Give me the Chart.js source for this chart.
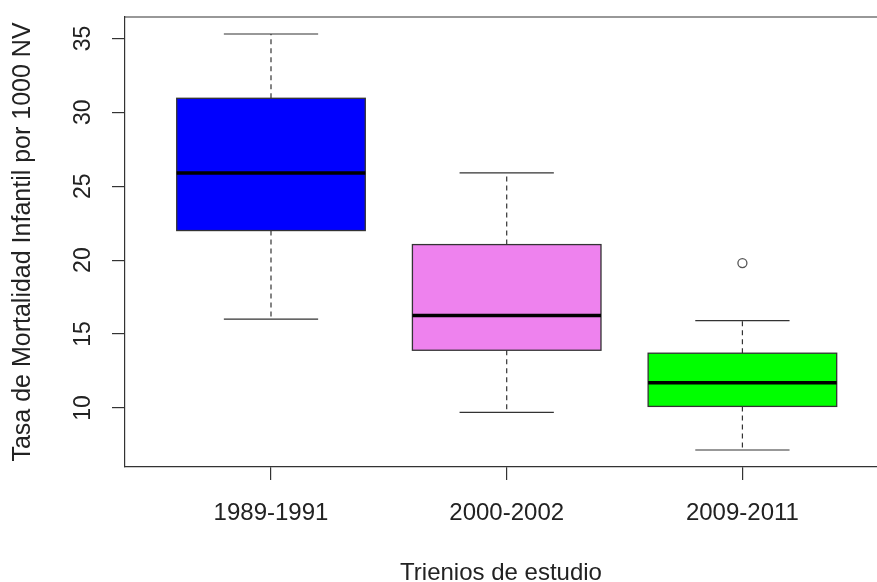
<!DOCTYPE html>
<html>
<head>
<meta charset="utf-8">
<script src="https://cdn.jsdelivr.net/npm/chart.js@4.4.1/dist/chart.umd.min.js"></script>
<style>
  html, body { margin: 0; padding: 0; background: #fff; }
  #wrap { width: 877px; height: 582px; }
</style>
</head>
<body>
<div id="wrap"><canvas id="boxChart" width="877" height="582"></canvas></div>
<script>
// Box statistics (per triennium)
var categories = ['1989-1991', '2000-2002', '2009-2011'];
var lowerWhisker = [16.0, 9.7, 7.15];
var q1 = [22.0, 13.9, 10.1];
var median = [25.9, 16.25, 11.7];
var q3 = [30.95, 21.05, 13.7];
var upperWhisker = [35.3, 25.9, 15.9];
var outliers = [[], [], [19.8]];
var boxColors = ['#0000FF', '#EE82EE', '#00FF00'];
var yTickValues = [10, 15, 20, 25, 30, 35];

var FONT = '"Liberation Sans", Arial, sans-serif';

// outlier points as scatter data
var outlierPoints = [];
outliers.forEach(function (list, i) {
    list.forEach(function (v) { outlierPoints.push({ x: i + 1, y: v }); });
});

// Plugin: boxes, whiskers and medians drawn via the chart scales
var boxPlugin = {
    id: 'boxPlugin',
    beforeDatasetsDraw: function (chart) {
        var ctx = chart.ctx;
        var xs = chart.scales.x, ys = chart.scales.y;
        ctx.save();
        categories.forEach(function (c, i) {
            var cx = xs.getPixelForValue(i + 1);
            var halfBox = xs.getPixelForValue(i + 1.4) - cx;
            var halfCap = xs.getPixelForValue(i + 1.2) - cx;
            var yLw = ys.getPixelForValue(lowerWhisker[i]);
            var yQ1 = ys.getPixelForValue(q1[i]);
            var yMed = ys.getPixelForValue(median[i]);
            var yQ3 = ys.getPixelForValue(q3[i]);
            var yUw = ys.getPixelForValue(upperWhisker[i]);

            // dashed whiskers
            ctx.strokeStyle = '#333';
            ctx.lineWidth = 1.2;
            ctx.setLineDash([5, 4]);
            ctx.beginPath();
            ctx.moveTo(cx, yQ3); ctx.lineTo(cx, yUw);
            ctx.moveTo(cx, yQ1); ctx.lineTo(cx, yLw);
            ctx.stroke();
            ctx.setLineDash([]);

            // caps
            ctx.beginPath();
            ctx.moveTo(cx - halfCap, yUw); ctx.lineTo(cx + halfCap, yUw);
            ctx.moveTo(cx - halfCap, yLw); ctx.lineTo(cx + halfCap, yLw);
            ctx.stroke();

            // box
            ctx.fillStyle = boxColors[i];
            ctx.fillRect(cx - halfBox, yQ3, halfBox * 2, yQ1 - yQ3);
            ctx.lineWidth = 1.3;
            ctx.strokeRect(cx - halfBox, yQ3, halfBox * 2, yQ1 - yQ3);

            // median
            ctx.strokeStyle = '#000';
            ctx.lineWidth = 3.5;
            ctx.beginPath();
            ctx.moveTo(cx - halfBox, yMed); ctx.lineTo(cx + halfBox, yMed);
            ctx.stroke();
        });
        ctx.restore();
    },
    afterDraw: function (chart) {
        var ctx = chart.ctx;
        var ys = chart.scales.y;
        var area = chart.chartArea;
        ctx.save();
        // top frame line
        ctx.strokeStyle = '#333';
        ctx.lineWidth = 1.2;
        ctx.beginPath();
        ctx.moveTo(area.left, area.top);
        ctx.lineTo(area.right, area.top);
        ctx.stroke();
        // rotated y tick labels, like R
        ctx.fillStyle = '#222';
        ctx.font = '23px ' + FONT;
        ctx.textAlign = 'center';
        ctx.textBaseline = 'middle';
        yTickValues.forEach(function (v) {
            ctx.save();
            ctx.translate(84, ys.getPixelForValue(v));
            ctx.rotate(-Math.PI / 2);
            ctx.fillText(String(v), 0, 0);
            ctx.restore();
        });
        ctx.restore();
    }
};

var ctxBox = document.getElementById('boxChart').getContext('2d');
var boxChart = new Chart(ctxBox, {
    type: 'scatter',
    data: {
        datasets: [{
            label: 'Atípicos',
            data: outlierPoints,
            pointRadius: 4.5,
            pointHoverRadius: 4.5,
            pointBorderWidth: 1.3,
            borderColor: '#555',
            backgroundColor: 'rgba(0,0,0,0)'
        }]
    },
    options: {
        responsive: false,
        animation: false,
        layout: { autoPadding: false, padding: { top: 17, right: 0, left: 0, bottom: 0 } },
        plugins: {
            legend: { display: false },
            tooltip: { enabled: false }
        },
        scales: {
            x: {
                type: 'linear',
                min: 0.3806,
                max: 3.571,
                afterFit: function (scale) {
                    scale.height = 115;
                    scale.paddingLeft = 0;
                    scale.paddingRight = 0;
                },
                afterBuildTicks: function (scale) {
                    scale.ticks = categories.map(function (c, i) { return { value: i + 1 }; });
                },
                ticks: {
                    autoSkip: false,
                    maxRotation: 0,
                    padding: 19,
                    color: '#222',
                    font: { family: FONT, size: 24 },
                    callback: function (value) { return categories[value - 1]; }
                },
                grid: { drawOnChartArea: false, drawTicks: true, tickLength: 13, color: '#333', lineWidth: 1.2 },
                border: { display: true, color: '#333', width: 1.2 },
                title: {
                    display: true,
                    text: 'Trienios de estudio',
                    color: '#222',
                    font: { family: FONT, size: 24, lineHeight: 1.2 },
                    padding: { top: 0, bottom: -6 }
                }
            },
            y: {
                type: 'linear',
                min: 6.0,
                max: 36.45,
                afterFit: function (scale) {
                    scale.width = 125;
                    scale.paddingTop = 0;
                    scale.paddingBottom = 0;
                },
                afterBuildTicks: function (scale) {
                    scale.ticks = yTickValues.map(function (v) { return { value: v }; });
                },
                ticks: { display: false },
                grid: { drawOnChartArea: false, drawTicks: true, tickLength: 13, color: '#333', lineWidth: 1.2 },
                border: { display: true, color: '#333', width: 1.2 },
                title: {
                    display: true,
                    text: 'Tasa de Mortalidad Infantil por 1000 NV',
                    color: '#222',
                    font: { family: FONT, size: 25, lineHeight: 1.2 },
                    padding: { top: 8, bottom: 0 }
                }
            }
        }
    },
    plugins: [boxPlugin]
});
</script>
</body>
</html>
